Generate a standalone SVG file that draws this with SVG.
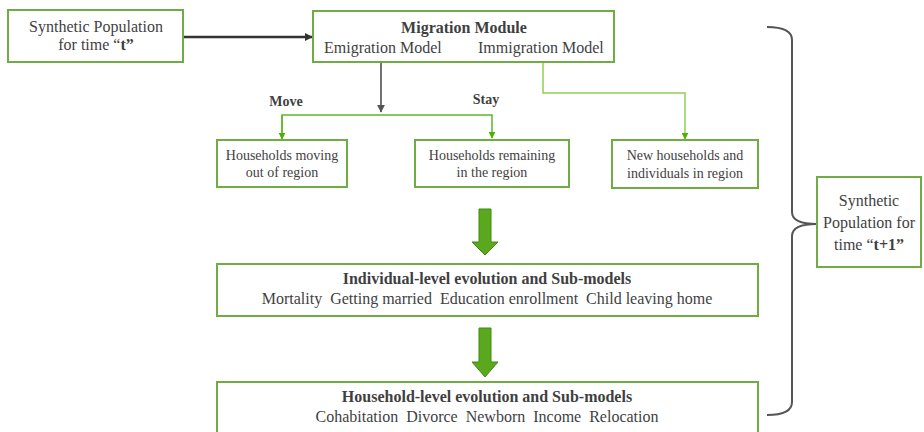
<svg xmlns="http://www.w3.org/2000/svg" width="924" height="432" viewBox="0 0 924 432">
<defs>
<style>
.box{fill:#fff;stroke:#6fac46;stroke-width:2}
.t{font-family:'Liberation Serif','DejaVu Serif','Times New Roman',serif;fill:#3f3f3f;text-anchor:middle}
.t16{font-size:16px}
.t14{font-size:14px}
.b{font-weight:bold}
.gray{fill:none;stroke:#444;stroke-width:1.5}
.green{fill:none;stroke:#5db82a;stroke-width:1.5}
.lgreen{fill:none;stroke:#92d050;stroke-width:1.5}
.big{fill:#5aa91c;stroke:#3f8a14;stroke-width:1}
</style>
<marker id="ag" viewBox="0 0 10 10" refX="9" refY="5" markerWidth="7" markerHeight="7" orient="auto" markerUnits="userSpaceOnUse">
<path d="M0,0 L10,5 L0,10 z" fill="#4fb000"/>
</marker>
<marker id="ad" viewBox="0 0 10 10" refX="9" refY="5" markerWidth="8" markerHeight="8" orient="auto" markerUnits="userSpaceOnUse">
<path d="M0,0 L10,5 L0,10 z" fill="#333"/>
</marker>
<marker id="agr" viewBox="0 0 10 10" refX="9" refY="5" markerWidth="8" markerHeight="8" orient="auto" markerUnits="userSpaceOnUse">
<path d="M0,0 L10,5 L0,10 z" fill="#555"/>
</marker>
</defs>
<rect width="924" height="432" fill="#fff"/>

<g id="connectors">
<path d="M183,37 L312,37" fill="none" stroke="#333" stroke-width="2.5" marker-end="url(#ad)"/>
<path class="gray" d="M381,62 L381,112" marker-end="url(#agr)"/>
<path class="green" d="M282,138 L282,115 L492,115 L492,138" marker-end="url(#ag)"/>
<path class="green" d="M282,115 L282,139" marker-end="url(#ag)"/>
<path class="lgreen" d="M543,62 L543,93 L685,93 L685,139" marker-end="url(#ag)"/>
<polygon class="big" points="479,209 491,209 491,242 498,242 485,255 472,242 479,242"/>
<polygon class="big" points="479,328 491,328 491,362 498,362 485,377 472,362 479,362"/>
<path d="M767,27 Q792,27 792,40 L792,212 Q792,224 817,224 Q792,224 792,236 L792,402 Q792,415 767,415" fill="none" stroke="#555" stroke-width="2"/>
<text class="t t14 b" x="286" y="106" font-family="Liberation Serif, serif">Move</text>
<text class="t t14 b" x="486" y="104" font-family="Liberation Serif, serif">Stay</text>
</g>

<g id="pop-t" font-family="Liberation Serif, serif">
<rect class="box" x="8" y="10" width="175" height="52"/>
<text class="t t16" x="96" y="32">Synthetic Population</text>
<text class="t t16" x="96" y="50">for time “<tspan class="b">t”</tspan></text>
</g>

<g id="migration" font-family="Liberation Serif, serif">
<rect class="box" x="313" y="11" width="301" height="51"/>
<text class="t t16 b" x="464" y="33">Migration Module</text>
<text class="t t16" x="324" y="53" style="text-anchor:start">Emigration Model</text>
<text class="t t16" x="478" y="53" style="text-anchor:start">Immigration Model</text>
</g>

<g id="moving" font-family="Liberation Serif, serif">
<rect class="box" x="217" y="140" width="130" height="47"/>
<text class="t t14" x="282" y="160">Households moving</text>
<text class="t t14" x="282" y="177">out of region</text>
</g>

<g id="remaining" font-family="Liberation Serif, serif">
<rect class="box" x="415" y="140" width="154" height="47"/>
<text class="t t14" x="492" y="160">Households remaining</text>
<text class="t t14" x="492" y="177">in the region</text>
</g>

<g id="new" font-family="Liberation Serif, serif">
<rect class="box" x="612" y="140" width="146" height="48"/>
<text class="t t14" x="685" y="160">New households and</text>
<text class="t t14" x="685" y="178">individuals in region</text>
</g>

<g id="individual" font-family="Liberation Serif, serif">
<rect class="box" x="217" y="264" width="541" height="52"/>
<text class="t t16 b" x="487" y="284">Individual-level evolution and Sub-models</text>
<text class="t t16" x="487" y="304" xml:space="preserve">Mortality  Getting married  Education enrollment  Child leaving home</text>
</g>

<g id="household" font-family="Liberation Serif, serif">
<rect class="box" x="217" y="382" width="541" height="60"/>
<text class="t t16 b" x="487" y="402">Household-level evolution and Sub-models</text>
<text class="t t16" x="487" y="422" xml:space="preserve">Cohabitation  Divorce  Newborn  Income  Relocation</text>
</g>

<g id="pop-t1" font-family="Liberation Serif, serif">
<rect class="box" x="817" y="177" width="104" height="90"/>
<text class="t t16" x="869" y="206">Synthetic</text>
<text class="t t16" x="869" y="228">Population for</text>
<text class="t t16" x="869" y="250">time “<tspan class="b">t+1”</tspan></text>
</g>
</svg>
